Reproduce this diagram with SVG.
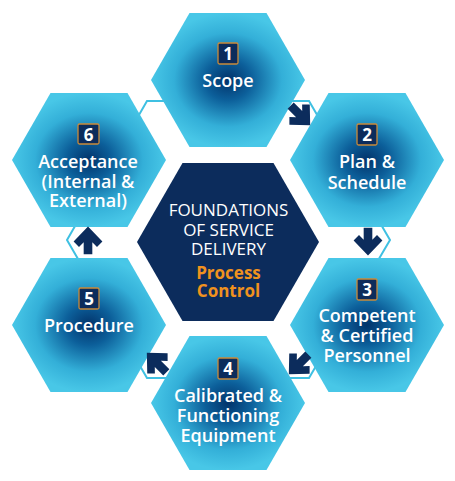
<svg xmlns="http://www.w3.org/2000/svg" width="455" height="481" viewBox="0 0 455 481">
<defs>
<radialGradient id="hg" cx="0.5" cy="0.5" r="0.5">
<stop offset="0" stop-color="#02336a"/>
<stop offset="0.3" stop-color="#0c5f9a"/>
<stop offset="0.7" stop-color="#33afd8"/>
<stop offset="1" stop-color="#48c7e7"/>
</radialGradient>
<polygon id="arr" points="0,-12 12,0.5 7.5,5 3.6,1 3.6,11 -3.6,11 -3.6,1 -7.5,5 -12,0.5"/>
</defs>
<style>
.hex{fill:url(#hg)}
.ctr{fill:#0c2c5c}
.ring{fill:#fff;stroke:#3fc0e2;stroke-width:2}
.box{fill:#0c2c5c;stroke:#c98a3a;stroke-width:1.3}
.num{font-family:"Open Sans","Liberation Sans",sans-serif;font-weight:700;font-size:17px;fill:#fff;text-anchor:middle}
.lbl{font-family:"Open Sans","Liberation Sans",sans-serif;font-weight:600;font-size:18px;fill:#fff;text-anchor:middle}
.ct{font-family:"Open Sans","Liberation Sans",sans-serif;font-weight:500;font-size:17px;fill:#fff;text-anchor:middle}
.or{font-family:"Open Sans","Liberation Sans",sans-serif;font-weight:700;font-size:17px;fill:#f0921e;text-anchor:middle}
.arrow{fill:#0c2c5c}
</style>
<rect width="455" height="481" fill="#fff"/>
<g id="ring">
<polygon class="ring" points="147,101 309,101 390,240 309,378 147,378 67,240"/>
</g>
<g id="node1">
<polygon class="hex" points="151,80 189.5,13 266.5,13 305,80 266.5,147 189.5,147"/>
<rect class="box" x="218" y="43" width="20" height="21" rx="1.5"/>
<text class="num" x="228" y="60">1</text>
<text class="lbl" x="228" y="87">Scope</text>
</g>
<g id="node2">
<polygon class="hex" points="290,160 328.5,93 405.5,93 444,160 405.5,227 328.5,227"/>
<rect class="box" x="357" y="124" width="20" height="21" rx="1.5"/>
<text class="num" x="367" y="141">2</text>
<text class="lbl" x="367" y="168">Plan &amp;</text>
<text class="lbl" x="367" y="189">Schedule</text>
</g>
<g id="node3">
<polygon class="hex" points="290,325 328.5,258 405.5,258 444,325 405.5,392 328.5,392"/>
<rect class="box" x="357" y="279" width="20" height="21" rx="1.5"/>
<text class="num" x="367" y="296">3</text>
<text class="lbl" x="367" y="322">Competent</text>
<text class="lbl" x="367" y="342">&amp; Certified</text>
<text class="lbl" x="367" y="362">Personnel</text>
</g>
<g id="node4">
<polygon class="hex" points="151,403 189.5,336 266.5,336 305,403 266.5,470 189.5,470"/>
<rect class="box" x="218" y="358" width="20" height="21" rx="1.5"/>
<text class="num" x="228" y="375">4</text>
<text class="lbl" x="228" y="402">Calibrated &amp;</text>
<text class="lbl" x="228" y="422">Functioning</text>
<text class="lbl" x="228" y="442">Equipment</text>
</g>
<g id="node5">
<polygon class="hex" points="12,325 50.5,258 127.5,258 166,325 127.5,392 50.5,392"/>
<rect class="box" x="79" y="288" width="20" height="21" rx="1.5"/>
<text class="num" x="89" y="305">5</text>
<text class="lbl" x="89" y="332">Procedure</text>
</g>
<g id="node6">
<polygon class="hex" points="12,160 50.5,93 127.5,93 166,160 127.5,227 50.5,227"/>
<rect class="box" x="78" y="124" width="21" height="20" rx="1.5"/>
<text class="num" x="88.5" y="140.5">6</text>
<text class="lbl" x="88" y="168">Acceptance</text>
<text class="lbl" x="88" y="188">(Internal &amp;</text>
<text class="lbl" x="88" y="207">External)</text>
</g>
<g id="center">
<polygon class="ctr" points="137,242 182.5,163 273.5,163 319,242 273.5,321 182.5,321"/>
<text class="ct" x="228.5" y="216">FOUNDATIONS</text>
<text class="ct" x="228.5" y="236">OF SERVICE</text>
<text class="ct" x="228.5" y="255">DELIVERY</text>
<text class="or" x="228.5" y="279">Process</text>
<text class="or" x="228.5" y="297">Control</text>
</g>
<g id="connectors">
<use href="#arr" class="arrow" transform="translate(300,115) rotate(135) scale(1.2)"/>
<use href="#arr" class="arrow" transform="translate(368,241) rotate(180) scale(1.2)"/>
<use href="#arr" class="arrow" transform="translate(299,364) rotate(225) scale(1.2)"/>
<use href="#arr" class="arrow" transform="translate(157,363) rotate(315) scale(1.2)"/>
<use href="#arr" class="arrow" transform="translate(88,241) scale(1.2)"/>
</g>
</svg>
